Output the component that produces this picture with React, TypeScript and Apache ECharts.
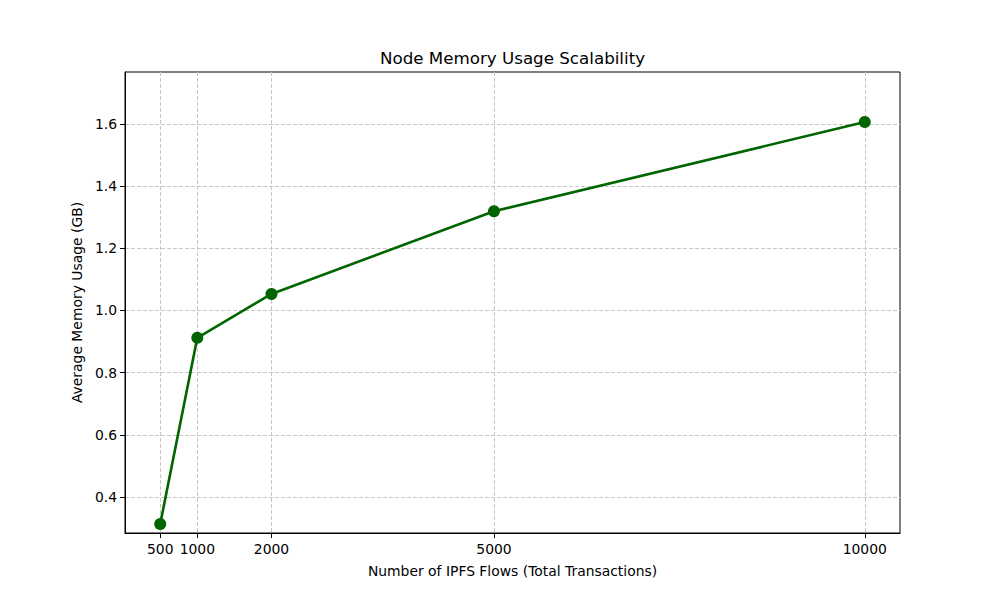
import React, { useEffect, useRef } from "react";
import * as echarts from "echarts";

const flows = [500, 1000, 2000, 5000, 10000];
const memoryGB = [0.313, 0.912, 1.053, 1.319, 1.606];
const xTicks = [500, 1000, 2000, 5000, 10000];
const yTicks = [0.4, 0.6, 0.8, 1.0, 1.2, 1.4, 1.6];

const FONT = "DejaVu Sans";

export default function App() {
  const ref = useRef<HTMLDivElement>(null);
  useEffect(() => {
    if (!ref.current) return;
    const chart = echarts.init(ref.current, undefined, { renderer: "svg" });
    chart.setOption({
      animation: false,
      backgroundColor: "#ffffff",
      title: {
        text: "Node Memory Usage Scalability",
        left: 507.5,
        top: 44,
        textAlign: "center",
        textStyle: { fontFamily: FONT, fontSize: 16.7, fontWeight: "normal", color: "#000" },
      },
      grid: {
        left: 125,
        right: 100,
        top: 72,
        bottom: 67,
        show: true,
        borderColor: "#000",
        borderWidth: 1,
        backgroundColor: "transparent",
      },
      xAxis: {
        type: "value",
        min: 25,
        max: 10475,
        name: "Number of IPFS Flows (Total Transactions)",
        nameLocation: "middle",
        nameGap: 31,
        nameTextStyle: { fontFamily: FONT, fontSize: 13.9, color: "#000" },
        axisLine: { show: true, lineStyle: { color: "#000", width: 1 } },
        axisTick: { show: true, length: 5, lineStyle: { color: "#000" }, customValues: xTicks },
        axisLabel: {
          fontFamily: FONT,
          fontSize: 13.9,
          color: "#000",
          margin: 9,
          customValues: xTicks,
          formatter: (v: number) => String(v),
        },
        splitLine: { show: true, lineStyle: { color: "#c6c6c6", type: [4, 2], width: 1 } },
      },
      yAxis: {
        type: "value",
        min: 0.284,
        max: 1.767,
        name: "Average Memory Usage (GB)",
        nameLocation: "middle",
        nameGap: 38,
        nameTextStyle: { fontFamily: FONT, fontSize: 13.9, color: "#000" },
        axisLine: { show: true, lineStyle: { color: "#000", width: 1 } },
        axisTick: { show: true, length: 5, lineStyle: { color: "#000" }, customValues: yTicks },
        axisLabel: {
          fontFamily: FONT,
          fontSize: 13.9,
          color: "#000",
          margin: 8,
          customValues: yTicks,
          formatter: (v: number) => v.toFixed(1),
        },
        splitLine: { show: true, lineStyle: { color: "#c6c6c6", type: [4, 2], width: 1 } },
      },
      series: [
        {
          type: "line",
          data: flows.map((f, i) => [f, memoryGB[i]]),
          symbol: "circle",
          symbolSize: 12,
          lineStyle: { color: "#006400", width: 2.6 },
          itemStyle: { color: "#006400" },
          z: 5,
        },
      ],
    });
    return () => chart.dispose();
  }, []);
  return <div ref={ref} style={{ width: 1000, height: 600, position: "absolute", left: 0, top: 0 }} />;
}
